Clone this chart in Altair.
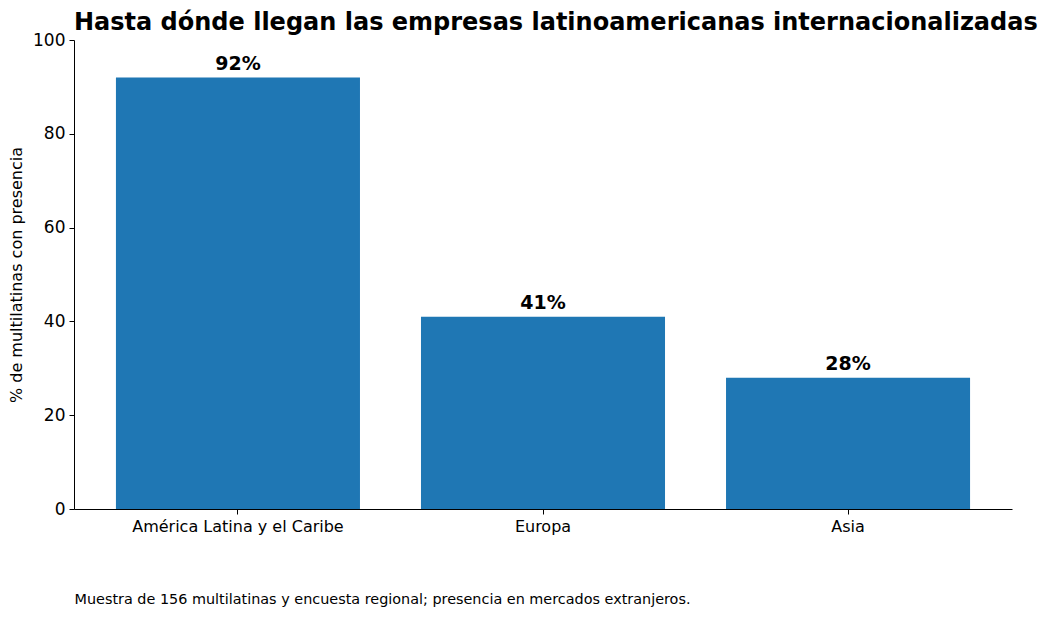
import altair as alt
import pandas as pd

regiones = ["América Latina y el Caribe", "Europa", "Asia"]
porcentajes = [92, 41, 28]
etiquetas = ["92%", "41%", "28%"]

titulo = "Hasta dónde llegan las empresas latinoamericanas internacionalizadas"
nota = "Muestra de 156 multilatinas y encuesta regional; presencia en mercados extranjeros."
y_titulo = "% de multilatinas con presencia"

df = pd.DataFrame({"region": regiones, "pct": porcentajes, "label": etiquetas})

FONT = "DejaVu Sans"

x = alt.X(
    "region:N",
    sort=None,
    scale=alt.Scale(paddingInner=0.2, paddingOuter=0.1375),
    axis=alt.Axis(
        title=nota,
        titleAnchor="start",
        titleAlign="left",
        titleX=0,
        titleY=90,
        titleBaseline="middle",
        titleFontWeight="normal",
        titleFontSize=14.4,
        titleFont=FONT,
        titleColor="black",
        labelAngle=0,
        labelFontSize=16,
        labelFont=FONT,
        labelColor="black",
        labelPadding=4,
        labelLimit=0,
        tickSize=5,
        tickColor="black",
        domainColor="black",
        grid=False,
    ),
)
y = alt.Y(
    "pct:Q",
    scale=alt.Scale(domain=[0, 100], nice=False),
    axis=alt.Axis(
        title=y_titulo,
        values=[0, 20, 40, 60, 80, 100],
        titleFontWeight="normal",
        titleFontSize=16,
        titleFont=FONT,
        titleColor="black",
        titlePadding=8,
        labelFontSize=17,
        labelFont=FONT,
        labelColor="black",
        labelPadding=4,
        tickSize=5,
        tickColor="black",
        domainColor="black",
        grid=False,
    ),
)

bars = alt.Chart(df).mark_bar(color="#1f77b4").encode(x=x, y=y)
texts = alt.Chart(df).mark_text(
    baseline="bottom", dy=-4, fontSize=19, fontWeight="bold", font=FONT, color="black"
).encode(x=alt.X("region:N", sort=None), y="pct:Q", text="label:N")

chart = (
    alt.layer(bars, texts)
    .properties(
        width=938,
        height=469,
        title=alt.TitleParams(
            text=titulo,
            anchor="start",
            frame="group",
            fontSize=24,
            font=FONT,
            fontWeight="bold",
            color="black",
            offset=0,
            dy=4,
        ),
        autosize=alt.AutoSizeParams(type="none"),
        padding={"left": 66, "top": 32, "right": 28, "bottom": 100},
    )
    .configure_view(stroke=None)
)

chart.save("out.html", embed_options={"renderer": "svg", "actions": False})
